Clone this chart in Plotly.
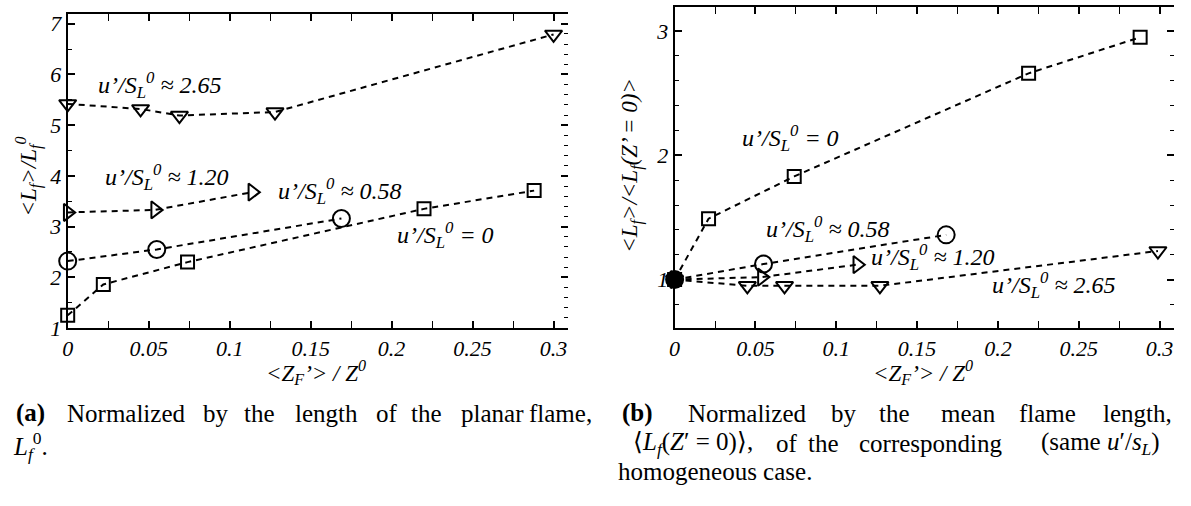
import plotly.graph_objects as go

W, H = 1191, 506

# ---------------- data ----------------
# Panel (a): <L_f>/L_f^0
a_sq_x = [0.0, 0.022, 0.074, 0.220, 0.288]
a_sq_y = [1.25, 1.86, 2.30, 3.35, 3.71]
a_ci_x = [0.0, 0.055, 0.169]
a_ci_y = [2.32, 2.55, 3.16]
a_tr_x = [0.0, 0.054, 0.114]
a_tr_y = [3.28, 3.33, 3.68]
a_td_x = [0.0, 0.045, 0.069, 0.128, 0.300]
a_td_y = [5.42, 5.32, 5.19, 5.26, 6.79]

# Panel (b): <L_f>/<L_f(Z'=0)>
b_sq_x = [0.0, 0.021, 0.074, 0.219, 0.288]
b_sq_y = [1.0, 1.49, 1.83, 2.66, 2.95]
b_ci_x = [0.0, 0.055, 0.168]
b_ci_y = [1.0, 1.125, 1.36]
b_tr_x = [0.0, 0.054, 0.113]
b_tr_y = [1.0, 1.02, 1.12]
b_td_x = [0.0, 0.045, 0.068, 0.127, 0.299]
b_td_y = [1.0, 0.95, 0.95, 0.95, 1.23]

x_ticks = [0, 0.05, 0.1, 0.15, 0.2, 0.25, 0.3]
x_ticklabels = ["0", "0.05", "0.1", "0.15", "0.2", "0.25", "0.3"]
a_y_ticks = [1, 2, 3, 4, 5, 6, 7]
b_y_ticks = [1, 2, 3]

lab_265 = "u’/S<sub>L</sub><sup>0</sup> ≈ 2.65"
lab_120 = "u’/S<sub>L</sub><sup>0</sup> ≈ 1.20"
lab_058 = "u’/S<sub>L</sub><sup>0</sup> ≈ 0.58"
lab_0 = "u’/S<sub>L</sub><sup>0</sup> = 0"

cap_a_words = ["<b>(a)</b>", "Normalized", "by", "the", "length", "of", "the", "planar", "flame,"]
cap_a_line2 = "<i>L</i><sub><i>f</i></sub><sup>0</sup>."
cap_b_words1 = ["<b>(b)</b>", "Normalized", "by", "the", "mean", "flame", "length,"]
cap_b_words2 = ["⟨<i>L<sub>f</sub></i>(<i>Z</i>′ = 0)⟩,", "of", "the", "corresponding",
                "(same <i>u</i>′/<i>s<sub>L</sub></i>)"]
cap_b_line3 = "homogeneous case."

SERIF = "Liberation Serif, Times New Roman, serif"

# caption word centres (pixels) – justified lines
cap_a_cx = [25, 121, 211, 255, 322, 383, 423, 489, 557]
cap_b_cx1 = [635, 745, 842, 893, 967, 1047, 1137]
cap_b_cx2 = [690, 785, 822, 930, 1100]


def px(x):
    return x / W


def py(y):
    return 1 - y / H


fig = go.Figure()

line_style = dict(color="black", width=2, dash="6px,5px")


def add_series(xs, ys, symbol, size, xa, ya, colors=None):
    mk = dict(symbol=symbol, size=size, color=colors if colors else "black",
              line=dict(color="black", width=2))
    fig.add_trace(go.Scatter(x=xs, y=ys, mode="lines+markers", line=line_style,
                             marker=mk, xaxis=xa, yaxis=ya, showlegend=False,
                             cliponaxis=False))


add_series(a_sq_x, a_sq_y, "square-open", 13, "x", "y")
add_series(a_ci_x, a_ci_y, "circle-open", 17, "x", "y")
add_series(a_tr_x, a_tr_y, "triangle-right-open", 15, "x", "y")
add_series(a_td_x, a_td_y, "triangle-down-open", 15, "x", "y")

add_series(b_sq_x, b_sq_y, "square-open", 13, "x2", "y2")
add_series(b_tr_x, b_tr_y, "triangle-right-open", 15, "x2", "y2")
add_series(b_td_x, b_td_y, "triangle-down-open", 15, "x2", "y2")
fig.add_trace(go.Scatter(x=b_ci_x, y=b_ci_y, mode="lines+markers", line=line_style,
                         marker=dict(symbol="circle", size=17,
                                     color=["black"] + ["rgba(0,0,0,0)"] * (len(b_ci_x) - 1),
                                     line=dict(color="black", width=2)),
                         xaxis="x2", yaxis="y2", showlegend=False, cliponaxis=False))

# empty traces so the right-hand tick-only axes get drawn
fig.add_trace(go.Scatter(x=[], y=[], xaxis="x", yaxis="y3", showlegend=False))
fig.add_trace(go.Scatter(x=[], y=[], xaxis="x2", yaxis="y4", showlegend=False))

tickfont = dict(family=SERIF, size=22, color="black", style="italic")

xcommon = dict(range=[0, 0.309], tickmode="array", tickvals=x_ticks, ticktext=x_ticklabels,
               ticks="inside", ticklen=7, tickwidth=1.5, tickcolor="black",
               showline=True, linecolor="black", linewidth=2, mirror="allticks",
               showgrid=False, zeroline=False, tickfont=tickfont,
               minor=dict(dtick=0.025, ticks="inside", ticklen=4, tickcolor="black", tickwidth=1))

ycommon = dict(ticks="inside", ticklen=7, tickwidth=1.5, tickcolor="black",
               showline=True, linecolor="black", linewidth=2, mirror=False,
               showgrid=False, zeroline=False, tickfont=tickfont)

a_range = [1, 7.2]
b_range = [0.61, 3.195]

fig.update_layout(
    width=W, height=H,
    margin=dict(l=0, r=0, t=0, b=0),
    paper_bgcolor="white", plot_bgcolor="white",
    xaxis=dict(domain=[px(62), px(565)], anchor="y", **xcommon),
    yaxis=dict(domain=[py(336), py(12)], anchor="x", range=a_range,
               tickmode="array", tickvals=a_y_ticks,
               minor=dict(dtick=0.5, ticks="inside", ticklen=4, tickcolor="black", tickwidth=1),
               **ycommon),
    yaxis3=dict(overlaying="y", anchor="x", side="right", range=a_range,
                showline=False, showgrid=False, zeroline=False, showticklabels=False,
                ticks="inside", ticklen=7, tickwidth=1.5, tickcolor="black", dtick=1,
                minor=dict(dtick=0.2, ticks="inside", ticklen=4, tickcolor="black", tickwidth=1)),
    xaxis2=dict(domain=[px(672), px(1174)], anchor="y2", **xcommon),
    yaxis2=dict(domain=[py(336), py(5)], anchor="x2", range=b_range,
                tickmode="array", tickvals=b_y_ticks,
                minor=dict(dtick=0.2, ticks="inside", ticklen=4, tickcolor="black", tickwidth=1),
                **ycommon),
    yaxis4=dict(overlaying="y2", anchor="x2", side="right", range=b_range,
                showline=False, showgrid=False, zeroline=False, showticklabels=False,
                ticks="inside", ticklen=7, tickwidth=1.5, tickcolor="black", dtick=1,
                minor=dict(dtick=0.2, ticks="inside", ticklen=4, tickcolor="black", tickwidth=1)),
)

labfont = dict(family=SERIF, size=24, color="black", style="italic")
ann = []
# panel (a) labels (data coords)
for t, x, y in [(lab_265, 0.057, 5.80), (lab_120, 0.0615, 3.98),
                (lab_058, 0.168, 3.70), (lab_0, 0.233, 2.84)]:
    ann.append(dict(text=t, x=x, y=y, xref="x", yref="y", showarrow=False, font=labfont,
                    xanchor="center", yanchor="middle"))
# panel (b) labels
for t, x, y in [(lab_0, 0.0714, 2.14), (lab_058, 0.0948, 1.41),
                (lab_120, 0.160, 1.18), (lab_265, 0.2346, 0.96)]:
    ann.append(dict(text=t, x=x, y=y, xref="x2", yref="y2", showarrow=False, font=labfont,
                    xanchor="center", yanchor="middle"))

titlefont = dict(family=SERIF, size=23, color="black", style="italic")
# axis titles
ann.append(dict(text="&lt;L<sub>f</sub>&gt;/L<sub>f</sub><sup>0</sup>", x=px(22), y=py(180),
                xref="paper", yref="paper", showarrow=False, textangle=-90, font=titlefont,
                xanchor="center", yanchor="middle"))
ann.append(dict(text="&lt;L<sub>f</sub>&gt;/&lt;L<sub>f</sub>(Z’ = 0)&gt;", x=px(628), y=py(168),
                xref="paper", yref="paper", showarrow=False, textangle=-90, font=titlefont,
                xanchor="center", yanchor="middle"))
for cx in (312, 922):
    ann.append(dict(text="&lt;Z<sub>F</sub>’&gt; / Z<sup>0</sup>", x=px(cx), y=py(382),
                    xref="paper", yref="paper", showarrow=False, font=titlefont,
                    xanchor="center", yanchor="middle"))

capfont = dict(family=SERIF, size=25, color="black")


def cap(text, x, y, anchor="center"):
    ann.append(dict(text=text, x=px(x), y=py(y), xref="paper", yref="paper",
                    xanchor=anchor, yanchor="middle", showarrow=False, font=capfont))


for w, xx in zip(cap_a_words, cap_a_cx):
    cap(w, xx, 424)
cap(cap_a_line2, 5, 458, "left")
for w, xx in zip(cap_b_words1, cap_b_cx1):
    cap(w, xx, 424)
for w, xx in zip(cap_b_words2, cap_b_cx2):
    cap(w, xx, 455)
cap(cap_b_line3, 613, 484, "left")

fig.update_layout(annotations=ann)

fig.write_html("out.html")
